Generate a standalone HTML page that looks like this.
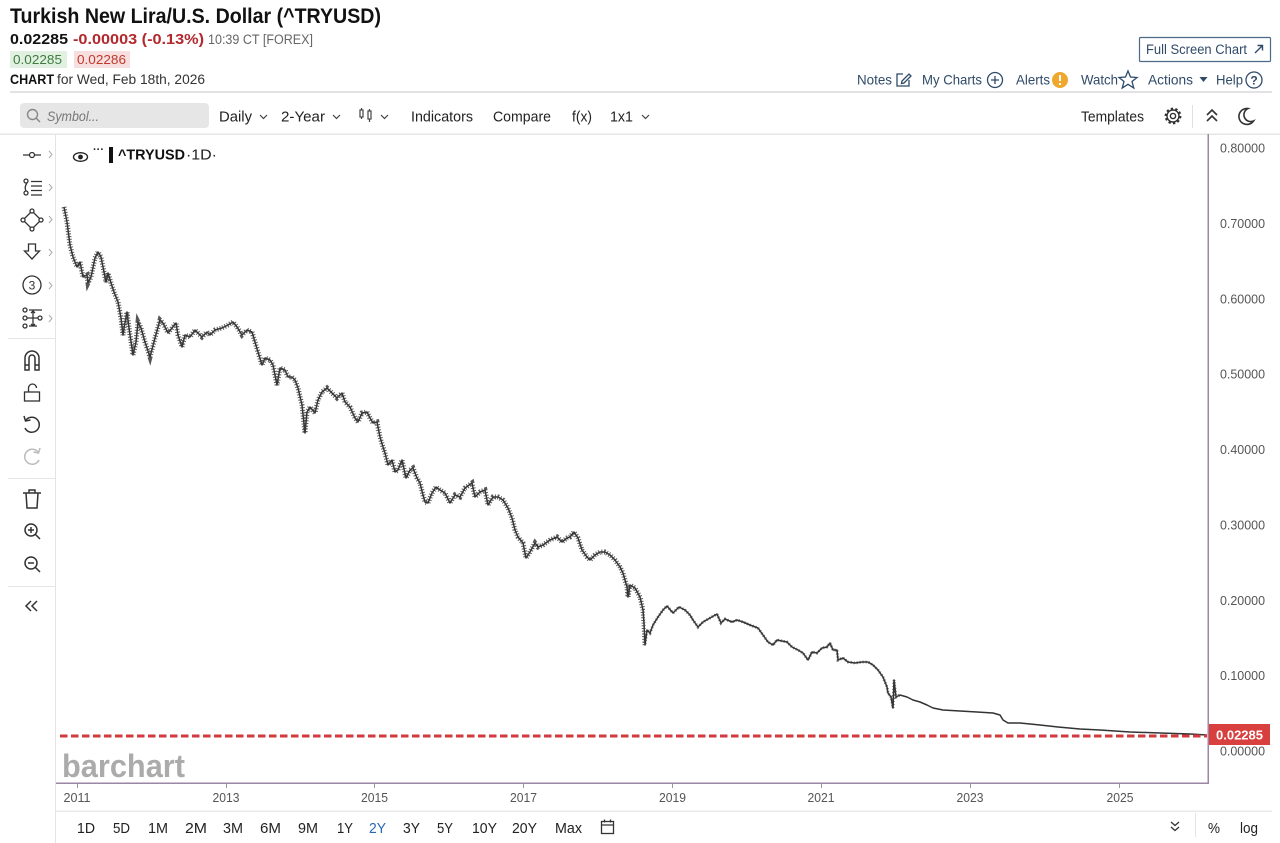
<!DOCTYPE html>
<html><head><meta charset="utf-8">
<style>
html,body{margin:0;padding:0;background:#fff;width:1280px;height:843px;overflow:hidden}
svg{display:block}
text{font-family:"Liberation Sans",Arial,sans-serif}
</style></head><body>
<svg width="1280" height="843" viewBox="0 0 1280 843" xmlns="http://www.w3.org/2000/svg">
<defs>
<path id="pd" d="M64,207 L65,212 L67,222 L70,245 L73,257 L77,267 L80,262 L83,277 L87,275 L88,283 L91,277 L95,258 L98,252 L101,257 L103,267 L106,282 L108,273 L111,283 L114,292 L118,302 L121,318 L123,335 L124,328 L127,312 L129,328 L133,355 L136,342 L138,322 L141,328 L145,342 L150,357 L155,338 L160,320 L163,323 L168,333 L172,328 L176,323 L178,335 L182,347 L185,335 L190,337 L195,330 L202,337 L207,332 L210,335 L215,330 L222,328 L228,325 L233,322 L237,327 L242,335 L247,330 L252,332 L255,342 L258,352 L262,365 L265,358 L270,360 L273,365 L277,385 L280,368 L285,370 L288,377 L292,377 L295,380 L298,388 L302,405 L305,433 L307,412 L310,407 L315,413 L318,400 L322,392 L327,388 L332,393 L337,398 L342,393 L345,402 L350,407 L355,418 L358,422 L362,413 L367,412 L370,418 L373,423 L377,422 L380,437 L383,447 L385,453 L388,465 L392,460 L395,472 L398,470 L402,460 L406,478 L410,470 L413,468 L417,478 L420,483 L423,495 L425,502 L428,503 L432,493 L436,487 L440,490 L445,493 L450,503 L455,495 L460,497 L465,488 L472,483 L475,497 L480,492 L485,490 L488,505 L493,497 L498,497 L503,500 L508,508 L512,518 L515,530 L518,537 L523,543 L526,558 L530,552 L535,543 L538,547 L543,545 L550,540 L557,537 L562,542 L567,538 L570,537 L574,532 L578,538 L582,550 L587,557 L590,560 L595,555 L600,552 L605,552 L610,555 L615,560 L620,567 L623,573 L627,587 L628,597 L630,585 L635,588 L640,597 L643,610 L644,623 L645,645 L647,630 L650,633 L653,625 L658,617 L663,610 L667,606 L673,613 L679,607 L685,610 L690,615 L693,620 L698,627 L703,622 L710,618 L717,614 L721,623 L725,619 L732,622 L737,620 L743,622 L750,625 L758,628 L763,635 L768,642 L773,645 L777,640 L787,642 L792,647 L798,650 L803,653 L808,660 L812,652 L817,653 L822,648 L827,647 L830,643 L833,650 L837,650 L838,660 L843,658 L848,662 L855,663 L862,662 L868,662 L873,665 L878,670 L883,677 L887,687 L888,693 L891,697 L893,708 L894,680 L896,697 L900,695 L907,697 L913,700 L920,702 L927,705 L933,708 L943,710 L960,711 L977,712 L993,713 L1000,715 L1003,720 L1008,723 L1020,723 L1040,725 L1058,727 L1080,729 L1100,730 L1130,732 L1160,733 L1190,734 L1207,735"/>
<clipPath id="cA"><rect x="56" y="134" width="589" height="648"/></clipPath>
<clipPath id="cB"><rect x="645" y="134" width="255" height="648"/></clipPath>
</defs>
<rect width="1280" height="843" fill="#fff"/>
<!-- Header -->
<text x="10" y="23" font-size="21" font-weight="700" fill="#111" textLength="371" lengthAdjust="spacingAndGlyphs">Turkish New Lira/U.S. Dollar (^TRYUSD)</text>
<text x="10" y="44" font-size="15" font-weight="700" fill="#111" textLength="58" lengthAdjust="spacingAndGlyphs">0.02285</text>
<text x="73" y="44" font-size="15" font-weight="700" fill="#b3282d" textLength="131" lengthAdjust="spacingAndGlyphs">-0.00003 (-0.13%)</text>
<text x="208" y="44" font-size="13.5" fill="#666" textLength="105" lengthAdjust="spacingAndGlyphs">10:39 CT [FOREX]</text>
<rect x="10" y="51" width="57" height="17" fill="#e2f0e2"/>
<text x="13" y="64" font-size="13" fill="#3d7d3d" textLength="49" lengthAdjust="spacingAndGlyphs">0.02285</text>
<rect x="74" y="51" width="56" height="17" fill="#f8dfdf"/>
<text x="77" y="64" font-size="13" fill="#c0392b" textLength="49" lengthAdjust="spacingAndGlyphs">0.02286</text>
<text x="10" y="84" font-size="13.5" font-weight="700" fill="#111" textLength="44" lengthAdjust="spacingAndGlyphs">CHART</text>
<text x="57" y="84" font-size="13.5" fill="#333" textLength="148" lengthAdjust="spacingAndGlyphs">for Wed, Feb 18th, 2026</text>

<!-- Full screen button -->
<rect x="1139.5" y="37.5" width="131" height="24" fill="#fff" stroke="#4d6a88" stroke-width="1.2" rx="1"/>
<text x="1146" y="54" font-size="13.5" fill="#2f4a68" textLength="101" lengthAdjust="spacingAndGlyphs">Full Screen Chart</text>
<path d="M1255,53 L1262,46 M1257.5,45.5 L1262.5,45.5 L1262.5,50.5" stroke="#2f4a68" stroke-width="1.4" fill="none"/>

<!-- Nav -->
<g fill="#2f4a68" font-size="14">
<text x="857" y="84.5" textLength="35" lengthAdjust="spacingAndGlyphs">Notes</text>
<text x="922" y="84.5" textLength="60" lengthAdjust="spacingAndGlyphs">My Charts</text>
<text x="1016" y="84.5" textLength="34" lengthAdjust="spacingAndGlyphs">Alerts</text>
<text x="1081" y="84.5" textLength="37" lengthAdjust="spacingAndGlyphs">Watch</text>
<text x="1148" y="84.5" textLength="45" lengthAdjust="spacingAndGlyphs">Actions</text>
<text x="1216" y="84.5" textLength="27" lengthAdjust="spacingAndGlyphs">Help</text>
</g>
<g stroke="#2f4a68" stroke-width="1.3" fill="none">
<path d="M903,74 L897,74 L897,86 L909,86 L909,80"/>
<path d="M902,81 L909,74 L911,76 L904,83 L901.5,83.5 Z"/>
<circle cx="995" cy="80" r="7.5"/>
<path d="M995,76 L995,84 M991,80 L999,80"/>
<polygon points="1128,71 1130.5,77 1137,77.5 1132,81.5 1133.8,88 1128,84.3 1122.2,88 1124,81.5 1119,77.5 1125.5,77"/>
<circle cx="1254" cy="80" r="8"/>
</g>
<circle cx="1060" cy="80" r="8" fill="#efa72e"/>
<rect x="1059" y="75" width="2" height="6" fill="#fff"/>
<rect x="1059" y="83" width="2" height="2" fill="#fff"/>
<polygon points="1199.5,77 1207.5,77 1203.5,82" fill="#2f4a68"/>
<text x="1254" y="84.5" font-size="12" font-weight="700" fill="#2f4a68" text-anchor="middle">?</text>
<rect x="10" y="91" width="1262" height="2" fill="#e2e2e2"/>

<!-- Toolbar -->
<rect x="20" y="103" width="189" height="25" rx="4" fill="#e6e6e6"/>
<circle cx="32.5" cy="114.5" r="5" fill="none" stroke="#888" stroke-width="1.4"/>
<path d="M36,118 L40,122" stroke="#888" stroke-width="1.5"/>
<text x="47" y="121" font-size="14" font-style="italic" fill="#777" textLength="52" lengthAdjust="spacingAndGlyphs">Symbol...</text>
<g font-size="14.5" fill="#222">
<text x="219" y="121.5" textLength="33" lengthAdjust="spacingAndGlyphs">Daily</text>
<text x="281" y="121.5" textLength="44" lengthAdjust="spacingAndGlyphs">2-Year</text>
<text x="411" y="121.5" textLength="62" lengthAdjust="spacingAndGlyphs">Indicators</text>
<text x="493" y="121.5" textLength="58" lengthAdjust="spacingAndGlyphs">Compare</text>
<text x="572" y="121.5" textLength="20" lengthAdjust="spacingAndGlyphs">f(x)</text>
<text x="610" y="121.5" textLength="23" lengthAdjust="spacingAndGlyphs">1x1</text>
<text x="1081" y="121.5" textLength="63" lengthAdjust="spacingAndGlyphs">Templates</text>
</g>
<g stroke="#444" stroke-width="1.2" fill="none">
<path d="M260,115 L263.5,118.5 L267,115"/>
<path d="M333,115 L336.5,118.5 L340,115"/>
<path d="M381,115 L384.5,118.5 L388,115"/>
<path d="M642,115 L645.5,118.5 L649,115"/>
<path d="M361.5,108 L361.5,110 M361.5,117 L361.5,119 M369.5,109 L369.5,111 M369.5,119 L369.5,122"/>
<rect x="360" y="110" width="3" height="7"/>
<rect x="368" y="111" width="3" height="8"/>
</g>
<g stroke="#333" stroke-width="1.4" fill="none">
<circle cx="1173" cy="116" r="2.6"/>
<circle cx="1173" cy="116" r="6"/>
<circle cx="1173" cy="116" r="7.2" stroke-width="2.4" stroke-dasharray="2.3 2.2"/>
<path d="M1207,115 L1212,110 L1217,115 M1207,121 L1212,116 L1217,121" stroke-width="1.6"/>
<path d="M1248,108.5 A8,8 0 1 0 1253.5,121 A6.5,6.5 0 0 1 1248,108.5 Z" stroke-width="1.6"/>
</g>
<rect x="1192" y="105" width="1" height="23" fill="#e0e0e0"/>
<rect x="0" y="133.5" width="1280" height="1.5" fill="#e6e6e6"/>

<!-- Sidebar -->
<rect x="55" y="135" width="1" height="708" fill="#e4e4e4"/>
<g fill="#e6e6e6"><rect x="8" y="338" width="47" height="1"/><rect x="8" y="478" width="47" height="1"/><rect x="8" y="586" width="47" height="1"/></g>
<g stroke="#aaa" stroke-width="1" fill="none">
<path d="M49,151 L52,154.5 L49,158"/><path d="M49,184 L52,187.5 L49,191"/><path d="M49,216 L52,219.5 L49,223"/><path d="M49,249 L52,252.5 L49,256"/><path d="M49,282 L52,285.5 L49,289"/><path d="M49,315 L52,318.5 L49,322"/>
</g>
<g stroke="#333" stroke-width="1.3" fill="none">
<path d="M23,155 L41,155"/><circle cx="32" cy="155" r="2.5" fill="#fff"/>
<circle cx="26" cy="181" r="2"/><circle cx="26" cy="193" r="2"/><path d="M27,183 Q24,187 26,191"/>
<path d="M31,181.5 L42,181.5 M31,186 L42,186 M31,190.5 L42,190.5 M31,195 L42,195"/>
<path d="M23,220 L32,211 L41,220 L32,229 Z"/>
<circle cx="23" cy="220" r="2" fill="#fff"/><circle cx="32" cy="211" r="2" fill="#fff"/><circle cx="41" cy="220" r="2" fill="#fff"/><circle cx="32" cy="229" r="2" fill="#fff"/>
<path d="M28.5,244 L35.5,244 L35.5,251 L39.5,251 L32,259 L24.5,251 L28.5,251 Z"/>
<circle cx="32" cy="285" r="9"/>
<circle cx="25" cy="310" r="2"/><circle cx="25" cy="318" r="2"/><circle cx="25" cy="326" r="2"/><circle cx="40" cy="318" r="2"/>
<path d="M27,318 L38,318 M33,311 L33,326 M31,313 L33,311 L35,313 M31,324 L33,326 L35,324 M29,310 L42,310 M29,326 L37,326"/>
<path d="M25,370 L25,358 A7,7 0 0 1 39,358 L39,370 L35,370 L35,358 A3,3 0 0 0 29,358 L29,370 Z M25,365 L29,365 M35,365 L39,365" stroke-width="1.5"/>
<rect x="24.5" y="392" width="15" height="9"/><path d="M28.5,392 L28.5,388 A4,4 0 0 1 36.5,388"/>
<path d="M26,420 A7.5,7.5 0 1 1 25,428" stroke-width="1.5"/><path d="M24,416 L25.5,421 L30.5,420" stroke-width="1.5"/>
<path d="M38,452 A7.5,7.5 0 1 0 39,460" stroke="#bbb" stroke-width="1.5"/><path d="M40,448 L38.5,453 L33.5,452" stroke="#bbb" stroke-width="1.5"/>
<path d="M23,493 L41,493 M29,493 L29,490 L35,490 L35,493 M26,493 L27,508 L37,508 L38,493" stroke-width="1.5"/>
<circle cx="31" cy="530" r="6" stroke-width="1.5"/><path d="M35.5,534.5 L40,539 M28,530 L34,530 M31,527 L31,533" stroke-width="1.5"/>
<circle cx="31" cy="563" r="6" stroke-width="1.5"/><path d="M35.5,567.5 L40,572 M28,563 L34,563" stroke-width="1.5"/>
<path d="M31,601 L26,606 L31,611 M37,601 L32,606 L37,611" stroke-width="1.5"/>
</g>
<text x="32" y="289.5" font-size="12" fill="#333" text-anchor="middle">3</text>

<!-- Legend -->
<ellipse cx="80.5" cy="157" rx="7" ry="4.3" fill="none" stroke="#222" stroke-width="1.4"/>
<circle cx="80.5" cy="157" r="2.4" fill="#222"/>
<text x="93" y="153" font-size="11" font-weight="700" fill="#222" textLength="11" lengthAdjust="spacingAndGlyphs">···</text>
<rect x="109" y="147" width="4" height="16" fill="#111"/>
<text x="118" y="159.5" font-size="14.5" font-weight="700" fill="#111" textLength="67" lengthAdjust="spacingAndGlyphs">^TRYUSD</text>
<text x="186" y="159.5" font-size="14.5" fill="#222" textLength="31" lengthAdjust="spacingAndGlyphs">·1D·</text>

<!-- Chart frame -->
<rect x="1207.5" y="134" width="1.5" height="650" fill="#9c86a6"/>
<rect x="56" y="782.5" width="1153" height="1.5" fill="#9c86a6"/>
<g fill="#999"><rect x="77" y="784" width="1" height="4"/><rect x="226" y="784" width="1" height="4"/><rect x="374" y="784" width="1" height="4"/><rect x="523" y="784" width="1" height="4"/><rect x="672" y="784" width="1" height="4"/><rect x="821" y="784" width="1" height="4"/><rect x="970" y="784" width="1" height="4"/><rect x="1119" y="784" width="1" height="4"/></g>
<g font-size="13" fill="#555" text-anchor="middle">
<text x="77" y="802" textLength="27" lengthAdjust="spacingAndGlyphs">2011</text>
<text x="226" y="802" textLength="27" lengthAdjust="spacingAndGlyphs">2013</text>
<text x="374.5" y="802" textLength="27" lengthAdjust="spacingAndGlyphs">2015</text>
<text x="523.5" y="802" textLength="27" lengthAdjust="spacingAndGlyphs">2017</text>
<text x="672.5" y="802" textLength="27" lengthAdjust="spacingAndGlyphs">2019</text>
<text x="821" y="802" textLength="27" lengthAdjust="spacingAndGlyphs">2021</text>
<text x="970" y="802" textLength="27" lengthAdjust="spacingAndGlyphs">2023</text>
<text x="1120" y="802" textLength="27" lengthAdjust="spacingAndGlyphs">2025</text>
</g>
<g font-size="13" fill="#555">
<text x="1220" y="152.5" textLength="45" lengthAdjust="spacingAndGlyphs">0.80000</text>
<text x="1220" y="228" textLength="45" lengthAdjust="spacingAndGlyphs">0.70000</text>
<text x="1220" y="303.5" textLength="45" lengthAdjust="spacingAndGlyphs">0.60000</text>
<text x="1220" y="378.5" textLength="45" lengthAdjust="spacingAndGlyphs">0.50000</text>
<text x="1220" y="454" textLength="45" lengthAdjust="spacingAndGlyphs">0.40000</text>
<text x="1220" y="529.5" textLength="45" lengthAdjust="spacingAndGlyphs">0.30000</text>
<text x="1220" y="605" textLength="45" lengthAdjust="spacingAndGlyphs">0.20000</text>
<text x="1220" y="680" textLength="45" lengthAdjust="spacingAndGlyphs">0.10000</text>
<text x="1220" y="755.5" textLength="45" lengthAdjust="spacingAndGlyphs">0.00000</text>
</g>

<!-- watermark -->
<text x="62" y="777" font-size="32" font-weight="700" fill="#ababab" textLength="123" lengthAdjust="spacingAndGlyphs">barchart</text>

<!-- price series -->
<use href="#pd" fill="none" stroke="#333" stroke-width="1.5" stroke-linejoin="round"/>
<g clip-path="url(#cA)"><use href="#pd" fill="none" stroke="#3a3a3a" stroke-width="5" stroke-dasharray="1 1.7" opacity="0.85"/></g>
<g clip-path="url(#cB)"><use href="#pd" fill="none" stroke="#3a3a3a" stroke-width="3" stroke-dasharray="1 2" opacity="0.7"/></g>

<!-- dashed last price -->
<line x1="60" y1="736" x2="1207" y2="736" stroke="#d23a3e" stroke-width="3" stroke-dasharray="7.5 3.5"/>
<rect x="1209" y="724" width="61" height="21" fill="#d8403f"/>
<text x="1216" y="739.5" font-size="13" font-weight="700" fill="#fff" textLength="47" lengthAdjust="spacingAndGlyphs">0.02285</text>

<!-- bottom bar -->
<rect x="56" y="810.5" width="1216" height="1.5" fill="#eaeaea"/>
<g font-size="15" fill="#222">
<text x="77" y="833" textLength="18" lengthAdjust="spacingAndGlyphs">1D</text>
<text x="113" y="833" textLength="17" lengthAdjust="spacingAndGlyphs">5D</text>
<text x="148" y="833" textLength="20" lengthAdjust="spacingAndGlyphs">1M</text>
<text x="185" y="833" textLength="22" lengthAdjust="spacingAndGlyphs">2M</text>
<text x="223" y="833" textLength="20" lengthAdjust="spacingAndGlyphs">3M</text>
<text x="260" y="833" textLength="21" lengthAdjust="spacingAndGlyphs">6M</text>
<text x="298" y="833" textLength="20" lengthAdjust="spacingAndGlyphs">9M</text>
<text x="337" y="833" textLength="16" lengthAdjust="spacingAndGlyphs">1Y</text>
<text x="369" y="833" textLength="17" lengthAdjust="spacingAndGlyphs" fill="#2a68b0">2Y</text>
<text x="403" y="833" textLength="17" lengthAdjust="spacingAndGlyphs">3Y</text>
<text x="437" y="833" textLength="16" lengthAdjust="spacingAndGlyphs">5Y</text>
<text x="472" y="833" textLength="25" lengthAdjust="spacingAndGlyphs">10Y</text>
<text x="512" y="833" textLength="25" lengthAdjust="spacingAndGlyphs">20Y</text>
<text x="555" y="833" textLength="27" lengthAdjust="spacingAndGlyphs">Max</text>
<text x="1208" y="833" textLength="12" lengthAdjust="spacingAndGlyphs">%</text>
<text x="1240" y="833" textLength="18" lengthAdjust="spacingAndGlyphs">log</text>
</g>
<g stroke="#333" stroke-width="1.3" fill="none">
<rect x="601.5" y="821.5" width="12" height="12"/>
<path d="M601.5,825 L613.5,825 M604.5,819.5 L604.5,822.5 M610.5,819.5 L610.5,822.5"/>
<path d="M1171,822 L1175,825.5 L1179,822 M1171,827 L1175,830.5 L1179,827"/>
</g>
<rect x="1195" y="813" width="1" height="24" fill="#e4e4e4"/>
</svg>
</body></html>
